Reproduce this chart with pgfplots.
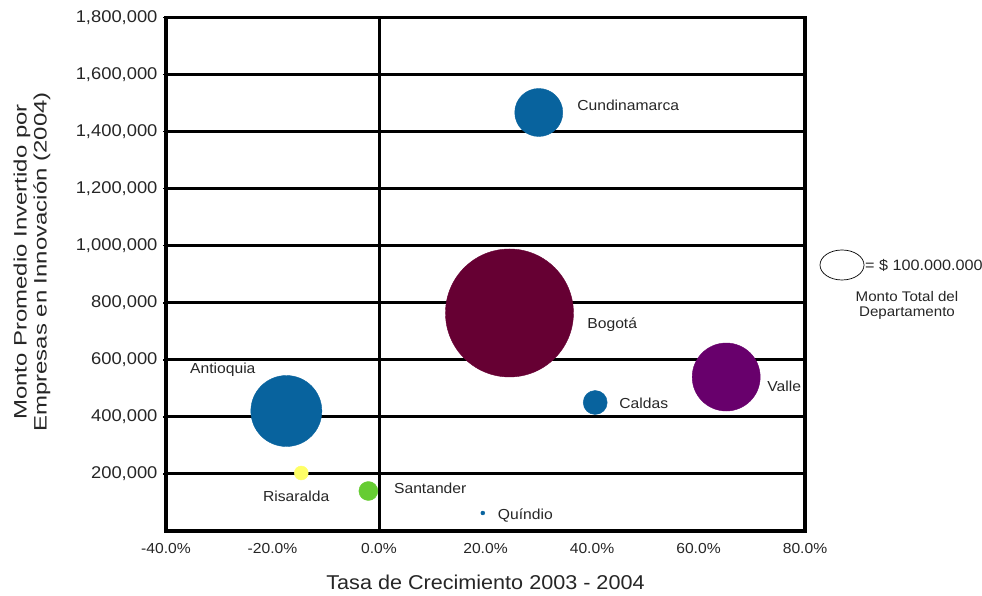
\documentclass[border=0pt]{standalone}
\usepackage{fontspec}
\setmainfont[FakeStretch=1.08]{Liberation Sans}
\newfontfamily\ylabfont[FakeStretch=1.33]{Liberation Sans}
\usepackage{pgfplots}
\pgfplotsset{compat=1.18}
\definecolor{bblue}{RGB}{8,99,158}
\definecolor{bmaroon}{RGB}{102,0,51}
\definecolor{bpurple}{RGB}{104,0,108}
\definecolor{byellow}{RGB}{255,255,102}
\definecolor{bgreen}{RGB}{102,204,51}
\begin{document}
\begin{tikzpicture}[x=1pt,y=1pt]
\path[use as bounding box] (0,0) rectangle (982,596);
\begin{axis}[
  at={(166pt,65pt)}, anchor=south west,
  scale only axis, width=639pt, height=513.5pt,
  xmin=-40, xmax=80, ymin=0, ymax=1800000,
  xtick={-40,-20,...,80},
  xticklabels={-40.0\%,-20.0\%,0.0\%,20.0\%,40.0\%,60.0\%,80.0\%},
  ytick={200000,400000,...,1800000},
  yticklabels={{200,000},{400,000},{600,000},{800,000},{1,000,000},{1,200,000},{1,400,000},{1,600,000},{1,800,000}},
  scaled y ticks=false,
  ymajorgrids,
  major grid style={black, line width=3pt},
  axis line style={black, line width=3.5pt},
  xtick style={draw=none},
  ytick style={black, line width=1.5pt},
  tick align=outside, major tick length=3pt,
  xtick pos=bottom, ytick pos=left,
  yticklabel style={font=\fontsize{17}{19}\selectfont, text=black!85, xshift=-2pt},
  xticklabel style={font=\fontsize{14.5}{16}\selectfont, text=black!85, yshift=-6pt},
  xlabel={Tasa de Crecimiento 2003 - 2004},
  xlabel style={font=\fontsize{20}{22}\selectfont, text=black!85, at={(axis description cs:0.5,0)}, anchor=center, yshift=-51pt},
  clip=false,
]
\draw[black, line width=3pt] (axis cs:0,0) -- (axis cs:0,1800000);
\addplot[only marks, mark=*, mark size=64pt, color=bmaroon] coordinates {(24.5,764200)};
\addplot[only marks, mark=*, mark size=24pt, color=bblue] coordinates {(30.0,1467000)};
\addplot[only marks, mark=*, mark size=34pt, color=bpurple] coordinates {(65.2,539800)};
\addplot[only marks, mark=*, mark size=12pt, color=bblue] coordinates {(40.6,450400)};
\addplot[only marks, mark=*, mark size=35.5pt, color=bblue] coordinates {(-17.4,420600)};
\addplot[only marks, mark=*, mark size=7pt, color=byellow] coordinates {(-14.6,203300)};
\addplot[only marks, mark=*, mark size=9.5pt, color=bgreen] coordinates {(-2.0,140200)};
\addplot[only marks, mark=*, mark size=2pt, color=bblue] coordinates {(19.5,63100)};
\begin{scope}[every node/.style={anchor=west, inner sep=0pt, font=\fontsize{14.5}{16}\selectfont, text=black!85}]
\node at (axis cs:37.2,1493000) {Cundinamarca};
\node at (axis cs:39.1,722000) {Bogotá};
\node at (axis cs:72.9,508300) {Valle};
\node at (axis cs:45.1,448700) {Caldas};
\node at (axis cs:-35.5,564400) {Antioquia};
\node at (axis cs:-21.8,122700) {Risaralda};
\node at (axis cs:2.8,150700) {Santander};
\node at (axis cs:22.3,52600) {Quíndio};
\end{scope}
\end{axis}
\node[rotate=90, align=center, text=black!85, font=\ylabfont\fontsize{18}{20}\selectfont] at (32,334) {Monto Promedio Invertido por\\Empresas en Innovación (2004)};
\draw[black, line width=0.7pt] (842,331) ellipse (22 and 15);
\node[anchor=west, inner sep=0pt, text=black!85, font=\fontsize{15}{17}\selectfont] at (865,331) {= \$ 100.000.000};
\node[align=center, inner sep=0pt, text=black!85, font=\fontsize{14}{15}\selectfont] at (907,290.5) {Monto Total del\\Departamento};
\end{tikzpicture}
\end{document}
